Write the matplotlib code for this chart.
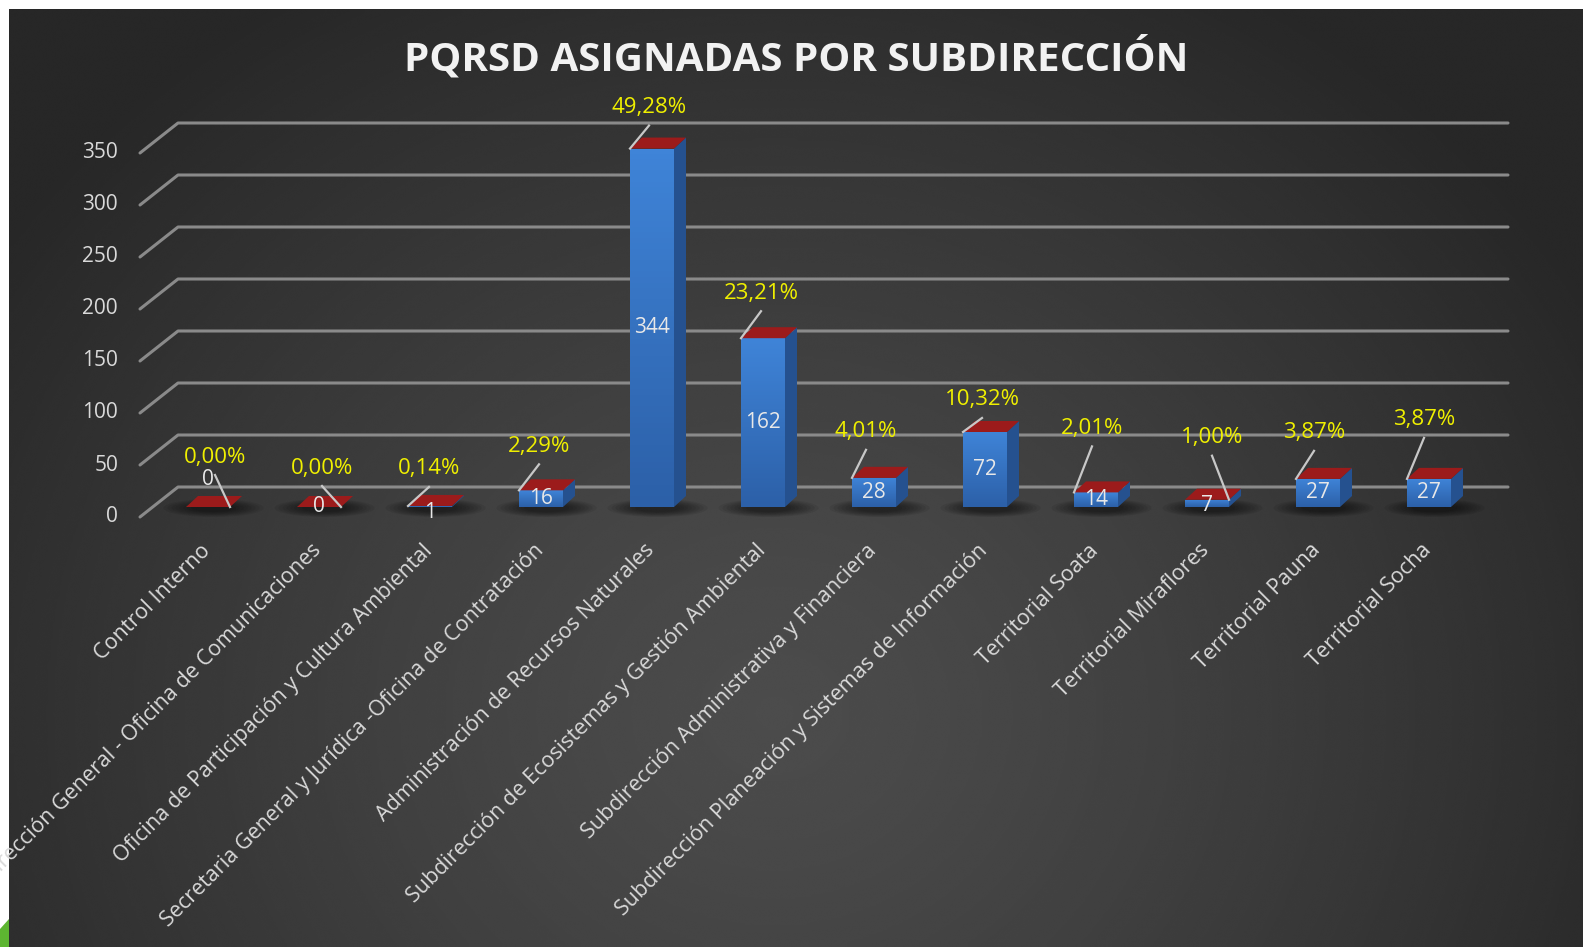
import numpy as np
import matplotlib.pyplot as plt
from matplotlib.patches import Polygon, Ellipse
from matplotlib.colors import LinearSegmentedColormap

plt.rcParams['font.family'] = ['Open Sans', 'DejaVu Sans']

# Datos
categorias = [
    "Control Interno",
    "Dirección General - Oficina de Comunicaciones",
    "Oficina de Participación y Cultura Ambiental",
    "Secretaria General y Jurídica -Oficina de Contratación",
    "Administración de Recursos Naturales",
    "Subdirección de Ecosistemas y Gestión Ambiental",
    "Subdirección Administrativa y Financiera",
    "Subdirección Planeación y Sistemas de Información",
    "Territorial Soata",
    "Territorial Miraflores",
    "Territorial Pauna",
    "Territorial Socha",
]
pqrsd = [0, 0, 1, 16, 344, 162, 28, 72, 14, 7, 27, 27]
ticks_y = [0, 50, 100, 150, 200, 250, 300, 350]
titulo = "PQRSD ASIGNADAS POR SUBDIRECCIÓN"

total = sum(pqrsd)
porcentajes = [f"{100 * v / total:.2f}%".replace(".", ",") for v in pqrsd]

# Layout (pixels)
W, H = 1583, 947
X0, DX = 208, 111      # first category centre, spacing
Y0, KY = 507, 1.042    # value 0 at bar front, px per unit
BAR_W = 44
DEP_X, DEP_Y = 12, 11  # bar depth
# percent label offsets from bar top (px) and leader side
lab_dx = [7, 3, -1, -2, -3, -2, -8, -3, -4, 5, -4, -5]
lab_dy = [50, 39, 37, 44, 41, 45, 46, 32, 64, 62, 46, 59]
lead_side = [1, 1, -1, -1, -1, -1, -1, -1, -1, 1, -1, -1]
val_dy = [28, 0, -6, 0, 0, 0, 0, 0, 0, -2, 0, 0]


def px(p):
    return (p - X0) / DX


def py(p):
    return (Y0 - p) / KY


fig = plt.figure(figsize=(W / 100, H / 100), dpi=100)
fig.patch.set_facecolor('white')

# background gradient
bg = fig.add_axes([9 / W, 0, 1 - 9 / W, 1 - 9 / H])
yy, xx = np.mgrid[0:400, 0:700]
d = np.sqrt(((xx - 340) / 420) ** 2 + ((yy - 300) / 360) ** 2)
shade = 0x4c - (0x4c - 0x27) * np.clip(d, 0, 1) ** 1.3
bg.imshow(shade, cmap='gray', vmin=0, vmax=255, aspect='auto',
          interpolation='bicubic')
bg.axis('off')

# green corner fragment
fig.patches.append(Polygon([[0, 0], [9 / W, 0], [9 / W, 28 / H], [0, 18 / H]],
                           closed=True, transform=fig.transFigure,
                           facecolor='#5db531', edgecolor='none'))

ax = fig.add_axes([0, 0, 1, 1])
ax.set_xlim(px(0), px(W))
ax.set_ylim(py(H), py(0))
ax.axis('off')

# back wall gridlines with left diagonals
xl_front, xl_back, x_right = px(140), px(178), px(1508)
back_off, front_off = 20 / KY, -10 / KY
for v in ticks_y:
    yv = v * 1.04 / KY
    ax.plot([xl_front, xl_back, x_right],
            [yv + front_off, yv + back_off, yv + back_off],
            color='#8a8a8a', lw=2.2, solid_capstyle='round', zorder=1)
    ax.text(px(118), yv + front_off, str(v), ha='right',
            va='center', color='#d9d9d9', fontsize=15)

w = BAR_W / DX
ddx, ddy = DEP_X / DX, DEP_Y / KY
grad = np.linspace(0, 1, 64).reshape(-1, 1)
blue = LinearSegmentedColormap.from_list('b', ['#3f84d8', '#2c60a8'])

for i, v in enumerate(pqrsd):
    # soft shadow under each bar
    for k in np.linspace(1.0, 0.45, 8):
        ax.add_patch(Ellipse((i + 0.05, py(508)), 100 * k / DX, 18 * k / KY,
                             facecolor='black', edgecolor='none', alpha=0.07,
                             zorder=2))
    # front face with gradient (lighter at top)
    bars = ax.bar(i, v, width=w, color='#3a76c4', zorder=3, linewidth=0)
    if v > 0:
        im = ax.imshow(grad, cmap=blue, origin='upper',
                       extent=[i - w / 2, i + w / 2, 0, v],
                       aspect='auto', zorder=3.1)
        im.set_clip_path(bars[0])
    # side face
    ax.add_patch(Polygon([[i + w / 2, 0], [i + w / 2 + ddx, ddy],
                          [i + w / 2 + ddx, v + ddy], [i + w / 2, v]],
                         facecolor='#25518f', edgecolor='none', zorder=3))
    # top face
    ax.add_patch(Polygon([[i - w / 2, v], [i + w / 2, v],
                          [i + w / 2 + ddx, v + ddy], [i - w / 2 + ddx, v + ddy]],
                         facecolor='#9c1b1b', edgecolor='none', zorder=3.2))
    # value label
    ax.text(i, v / 2 + val_dy[i] / KY, str(v), ha='center', va='center',
            color='#e8e8e8', fontsize=15, zorder=5)
    # percent label with leader line
    lx = i + lab_dx[i] / DX
    ly = v + lab_dy[i] / KY
    ax.plot([lx, i + lead_side[i] * w / 2], [ly - 18 / KY, v],
            color='#c8c8c8', lw=1.6, zorder=4)
    ax.text(lx, ly, porcentajes[i], ha='center', va='center',
            color='#f0f000', fontsize=16, zorder=5)
    # category label
    ax.text(i - 8 / DX, py(540), categorias[i], rotation=45,
            rotation_mode='anchor', ha='right', va='top',
            color='#d9d9d9', fontsize=15.5)

fig.text(796 / W, 1 - 58 / H, titulo, ha='center', va='center',
         color='#f2f2f2', fontsize=29, fontweight='bold')

fig.savefig('out.png', dpi=100, facecolor=fig.get_facecolor())
